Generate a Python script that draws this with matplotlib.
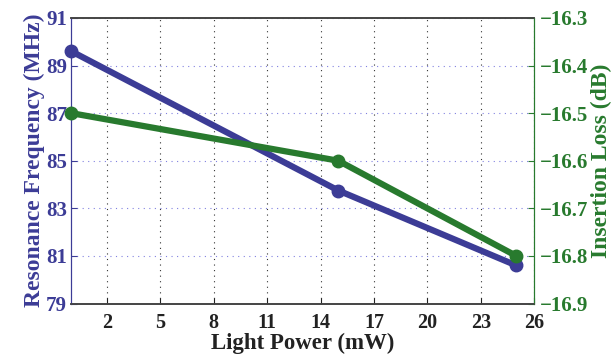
import matplotlib
matplotlib.use("Agg")
import matplotlib.pyplot as plt

power = [0, 15, 25]
freq = [89.6, 83.75, 80.6]
loss = [-16.5, -16.6, -16.8]

x_ticks = [2, 5, 8, 11, 14, 17, 20, 23, 26]
freq_ticks = [79, 81, 83, 85, 87, 89, 91]
loss_ticks = [-16.9, -16.8, -16.7, -16.6, -16.5, -16.4, -16.3]

blue = '#3c3c96'
green = '#287a2e'

plt.rcParams['font.family'] = ['Liberation Serif', 'DejaVu Serif']
plt.rcParams['font.weight'] = 'bold'

fig = plt.figure(figsize=(6.14, 3.58), dpi=100)
ax = fig.add_axes([0.116, 0.152, 0.754, 0.798])
ax2 = ax.twinx()

ax.plot(power, freq, color=blue, lw=4.5, marker='o', ms=9, clip_on=False, zorder=3)
ax2.plot(power, loss, color=green, lw=4.5, marker='o', ms=9, clip_on=False, zorder=3)

ax.set_xlim(0, 26)
ax.set_ylim(79, 91)
ax2.set_ylim(-16.9, -16.3)
ax.set_xticks(x_ticks)
ax.set_yticks(freq_ticks)
ax2.set_yticks(loss_ticks)
ax2.set_yticklabels(['\u2212%.1f' % abs(v) for v in loss_ticks])

# grid: dark dotted verticals, bluish dotted horizontals
ax.xaxis.grid(True, linestyle=(0, (1, 4)), color='#333333', lw=0.8)
ax.yaxis.grid(True, linestyle=(0, (1, 4)), color='#8080e0', lw=0.8)

ax.tick_params(axis='x', direction='in', length=4, labelsize=14.5, colors='#222222', pad=7)
ax.tick_params(axis='y', direction='in', length=4, labelsize=15, colors=blue, pad=3)
ax2.tick_params(axis='y', direction='in', length=4, labelsize=15, colors=green, pad=4)

for a in (ax, ax2):
    a.spines['top'].set_color('#444444')
    a.spines['bottom'].set_color('#444444')
    a.spines['top'].set_linewidth(1.2)
    a.spines['bottom'].set_linewidth(1.2)
    a.spines['left'].set_color(blue)
    a.spines['right'].set_color(green)

ax.set_xlabel('Light Power (mW)', fontsize=16.5, fontweight='bold', color='#222222', labelpad=0)
ax.set_ylabel('Resonance Frequency (MHz)', fontsize=17, fontweight='bold', color=blue, labelpad=1)
ax2.set_ylabel('Insertion Loss (dB)', fontsize=17, fontweight='bold', color=green, labelpad=2)

fig.savefig('out.png', dpi=100)
